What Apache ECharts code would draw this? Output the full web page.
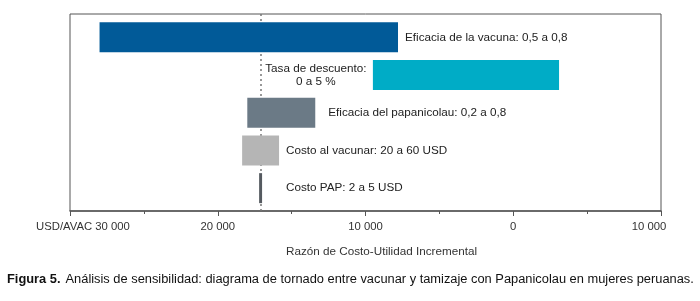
<!DOCTYPE html>
<html>
<head>
<meta charset="utf-8">
<script src="https://cdn.jsdelivr.net/npm/echarts@6/dist/echarts.min.js"></script>
<style>
  html, body { margin: 0; padding: 0; background: #fff; }
  #chart { width: 700px; height: 301px; }
</style>
</head>
<body>
<div id="chart"></div>
<script>
// categorias (de arriba hacia abajo)
var categories = [
  'Eficacia de la vacuna: 0,5 a 0,8',
  'Tasa de descuento:\n0 a 5 %',
  'Eficacia del papanicolau: 0,2 a 0,8',
  'Costo al vacunar: 20 a 60 USD',
  'Costo PAP: 2 a 5 USD'
];
// extremos de cada barra (USD/AVAC)
var lowValues = [7800, -3100, 13400, 15850, 17000];
var highValues = [28000, 9500, 18000, 18350, 17200];
var baseline = 17100;
var barColors = ['#015a98', '#00acc6', '#6b7a86', '#b5b5b5', '#555a60'];
var labelDist = [7, 5, 13, 7, 24];

var FONT = '"Liberation Sans", Arial, sans-serif';

function fmt(v) {
  var a = Math.abs(v);
  if (a === 0) return '0';
  var s = String(a);
  return s.slice(0, s.length - 3) + ' ' + s.slice(s.length - 3);
}

var baseData = [], spanData = [];
for (var i = 0; i < categories.length; i++) {
  baseData.push(lowValues[i]);
  var item = {
    value: highValues[i] - lowValues[i],
    itemStyle: { color: barColors[i] },
    label: {
      show: true,
      position: 'right',
      distance: labelDist[i],
      formatter: categories[i]
    }
  };
  if (i === 1) {
    item.label.position = 'left';
    item.label.align = 'center';
    item.label.offset = [-52, 0];
    item.label.lineHeight = 13;
  }
  spanData.push(item);
}

var chart = echarts.init(document.getElementById('chart'));
var option = {
  animation: false,
  backgroundColor: '#fff',
  textStyle: { fontFamily: FONT },
  title: {
    left: 7, top: 270, padding: 0,
    text: '{b|Figura 5.} {n|Análisis de sensibilidad: diagrama de tornado entre vacunar y tamizaje con Papanicolau en mujeres peruanas.}',
    textStyle: {
      fontWeight: 'normal',
      rich: {
        b: { fontFamily: FONT, fontSize: 12.85, fontWeight: 'bold', color: '#111' },
        n: { fontFamily: FONT, fontSize: 12.85, fontWeight: 'normal', color: '#111' }
      }
    }
  },
  grid: [
    { left: 70, right: 39, top: 18.5, height: 188.5 },
    { left: 70, right: 39, top: 14, height: 197, show: true, borderColor: '#555', borderWidth: 1, backgroundColor: 'transparent' }
  ],
  xAxis: [
    { type: 'value', gridIndex: 0, inverse: true, min: -10000, max: 30000, show: false },
    {
      type: 'value', gridIndex: 1, inverse: true, min: -10000, max: 30000, interval: 10000,
      axisLine: { show: true, lineStyle: { color: '#555', width: 1.5 } },
      axisTick: { show: true, length: 5, lineStyle: { color: '#555' } },
      minorTick: { show: true, splitNumber: 2, length: 3, lineStyle: { color: '#555' } },
      splitLine: { show: false },
      axisLabel: {
        margin: 10, fontSize: 11.3, color: '#333', fontFamily: FONT,
        formatter: function (v) {
          if (v === 30000) return '{first|USD/AVAC ' + fmt(v) + '}';
          if (v === -10000) return '{last|' + fmt(v) + '}';
          return fmt(v);
        },
        rich: {
          first: { fontSize: 11.3, color: '#333', fontFamily: FONT, padding: [0, 0, 0, 26] },
          last: { fontSize: 11.3, color: '#333', fontFamily: FONT, padding: [0, 24, 0, 0] }
        }
      },
      name: 'Razón de Costo-Utilidad Incremental',
      nameLocation: 'middle',
      nameGap: 35,
      nameTextStyle: { fontSize: 11.7, color: '#333', fontFamily: FONT, padding: [0, 0, 0, 32] }
    }
  ],
  yAxis: [
    { type: 'category', gridIndex: 0, inverse: true, data: categories, show: false },
    { type: 'value', gridIndex: 1, min: 0, max: 1, show: false }
  ],
  series: [
    {
      type: 'scatter', xAxisIndex: 1, yAxisIndex: 1, z: 1,
      data: [[baseline, 0]], symbolSize: 0, silent: true,
      markLine: {
        z: 1, silent: true, symbol: ['none', 'none'],
        label: { show: false },
        lineStyle: { type: [2, 3], color: '#777', width: 1.5 },
        data: [{ xAxis: baseline }]
      }
    },
    {
      name: 'base', type: 'bar', stack: 't', stackStrategy: 'all', z: 2,
      barWidth: 30, silent: true,
      itemStyle: { color: 'transparent' },
      data: baseData
    },
    {
      name: 'rango', type: 'bar', stack: 't', stackStrategy: 'all', z: 3,
      barWidth: 30,
      label: { color: '#222', fontSize: 11.7, fontFamily: FONT },
      data: spanData
    }
  ]
};
chart.setOption(option);
</script>
</body>
</html>
